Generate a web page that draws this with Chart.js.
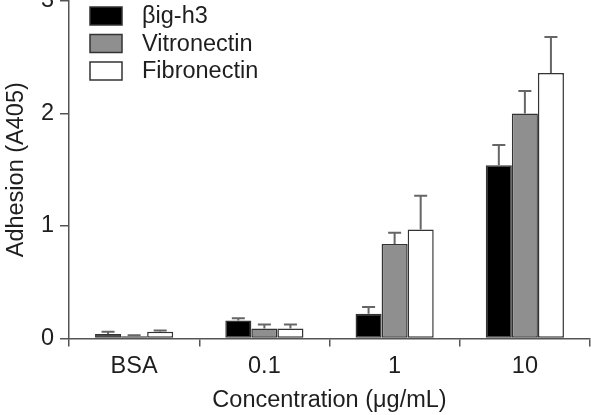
<!DOCTYPE html>
<html>
<head>
<meta charset="utf-8">
<script src="https://cdn.jsdelivr.net/npm/chart.js@4"></script>
<style>
  html, body { margin: 0; padding: 0; background: #fff; }
  #wrap { width: 591px; height: 415px; }
</style>
</head>
<body>
<div id="wrap"><canvas id="chart" width="591" height="415"></canvas></div>
<script>
// ---------------------------------------------------------------
// DATA
// ---------------------------------------------------------------

const categories = ['BSA', '0.1', '1', '10'];
const seriesNames = ['\u03B2ig-h3', 'Vitronectin', 'Fibronectin'];

const bigh3 = [0.04, 0.16, 0.22, 1.54];
const bigh3Err = [0.02, 0.02, 0.06, 0.18];

const vitronectin = [0.02, 0.09, 0.84, 2.0];
const vitronectinErr = [0.01, 0.035, 0.1, 0.2];

const fibronectin = [0.06, 0.09, 0.97, 2.36];
const fibronectinErr = [0.012, 0.035, 0.3, 0.32];

const yTicks = [0, 1, 2, 3];

// ---------------------------------------------------------------
// STYLE
// ---------------------------------------------------------------

const FONT = 'Liberation Sans, Arial, sans-serif';
const FS = 23.5;
const TEXT = '#1e1e1e';
const AXIS = '#555';
const fills = ['#000000', '#8f8f8f', '#ffffff'];

// one-sided (upward) error bars, positioned through the y scale
const errorBars = {
  id: 'errorBars',
  afterDatasetsDraw(chart) {
    const { ctx } = chart;
    const y = chart.scales.y;
    ctx.save();
    ctx.strokeStyle = '#666';
    ctx.lineWidth = 2;
    chart.data.datasets.forEach((ds, i) => {
      const meta = chart.getDatasetMeta(i);
      meta.data.forEach((bar, j) => {
        const top = y.getPixelForValue(ds.data[j] + ds.errors[j]);
        const half = bar.width * 0.25;
        ctx.beginPath();
        ctx.moveTo(bar.x, bar.y);
        ctx.lineTo(bar.x, top);
        ctx.moveTo(bar.x - half, top);
        ctx.lineTo(bar.x + half, top);
        ctx.stroke();
      });
    });
    ctx.restore();
  }
};

// legend drawn inside the plot, top-left
const innerLegend = {
  id: 'innerLegend',
  afterDraw(chart) {
    const { ctx } = chart;
    ctx.save();
    ctx.font = FS + 'px ' + FONT;
    ctx.textBaseline = 'middle';
    chart.data.datasets.forEach((ds, i) => {
      const bx = 90, by = 7 + i * 27.5;
      ctx.fillStyle = ds.backgroundColor;
      ctx.fillRect(bx, by, 32, 18);
      ctx.strokeStyle = '#333';
      ctx.lineWidth = 1.5;
      ctx.strokeRect(bx, by, 32, 18);
      ctx.fillStyle = TEXT;
      ctx.fillText(ds.label, 142, by + 10);
    });
    ctx.restore();
  }
};

const series = [
  [bigh3, bigh3Err],
  [vitronectin, vitronectinErr],
  [fibronectin, fibronectinErr]
];

new Chart(document.getElementById('chart').getContext('2d'), {
  type: 'bar',
  data: {
    labels: categories,
    datasets: series.map(([values, errs], i) => ({
      label: seriesNames[i],
      data: values,
      errors: errs,
      backgroundColor: fills[i],
      borderColor: '#333',
      borderWidth: 1.5,
      borderSkipped: false,
      categoryPercentage: 0.6,
      barPercentage: 1.0
    }))
  },
  options: {
    responsive: false,
    animation: false,
    layout: { padding: { left: 0, right: 1, top: 1, bottom: 0 } },
    plugins: { legend: { display: false }, tooltip: { enabled: false } },
    scales: {
      x: {
        grid: { offset: true, drawOnChartArea: false, drawTicks: true, tickLength: 8, color: AXIS, lineWidth: 1.5 },
        border: { display: true, color: AXIS, width: 1.5 },
        ticks: { color: TEXT, font: { family: FONT, size: FS }, padding: 6 },
        title: { display: true, text: 'Concentration (\u03BCg/mL)', color: TEXT, font: { family: FONT, size: FS }, padding: { top: 0, bottom: 0 } },
        afterFit(scale) {
          scale.height = 76.5;
          scale.paddingLeft = 0;
          scale.paddingRight = 0;
        }
      },
      y: {
        min: 0,
        max: 3,
        afterBuildTicks(scale) {
          scale.ticks = yTicks.map((v) => ({ value: v }));
        },
        grid: { drawOnChartArea: false, drawTicks: true, tickLength: 9, color: AXIS, lineWidth: 1.5 },
        border: { display: true, color: AXIS, width: 1.5 },
        ticks: { color: TEXT, font: { family: FONT, size: FS }, padding: 6 },
        title: { display: true, text: 'Adhesion (A405)', color: TEXT, font: { family: FONT, size: FS }, padding: { top: 2, bottom: 0 } },
        afterFit(scale) {
          scale.width = 69;
          scale.paddingTop = 0;
          scale.paddingBottom = 0;
        }
      }
    }
  },
  plugins: [errorBars, innerLegend]
});
</script>
</body>
</html>
